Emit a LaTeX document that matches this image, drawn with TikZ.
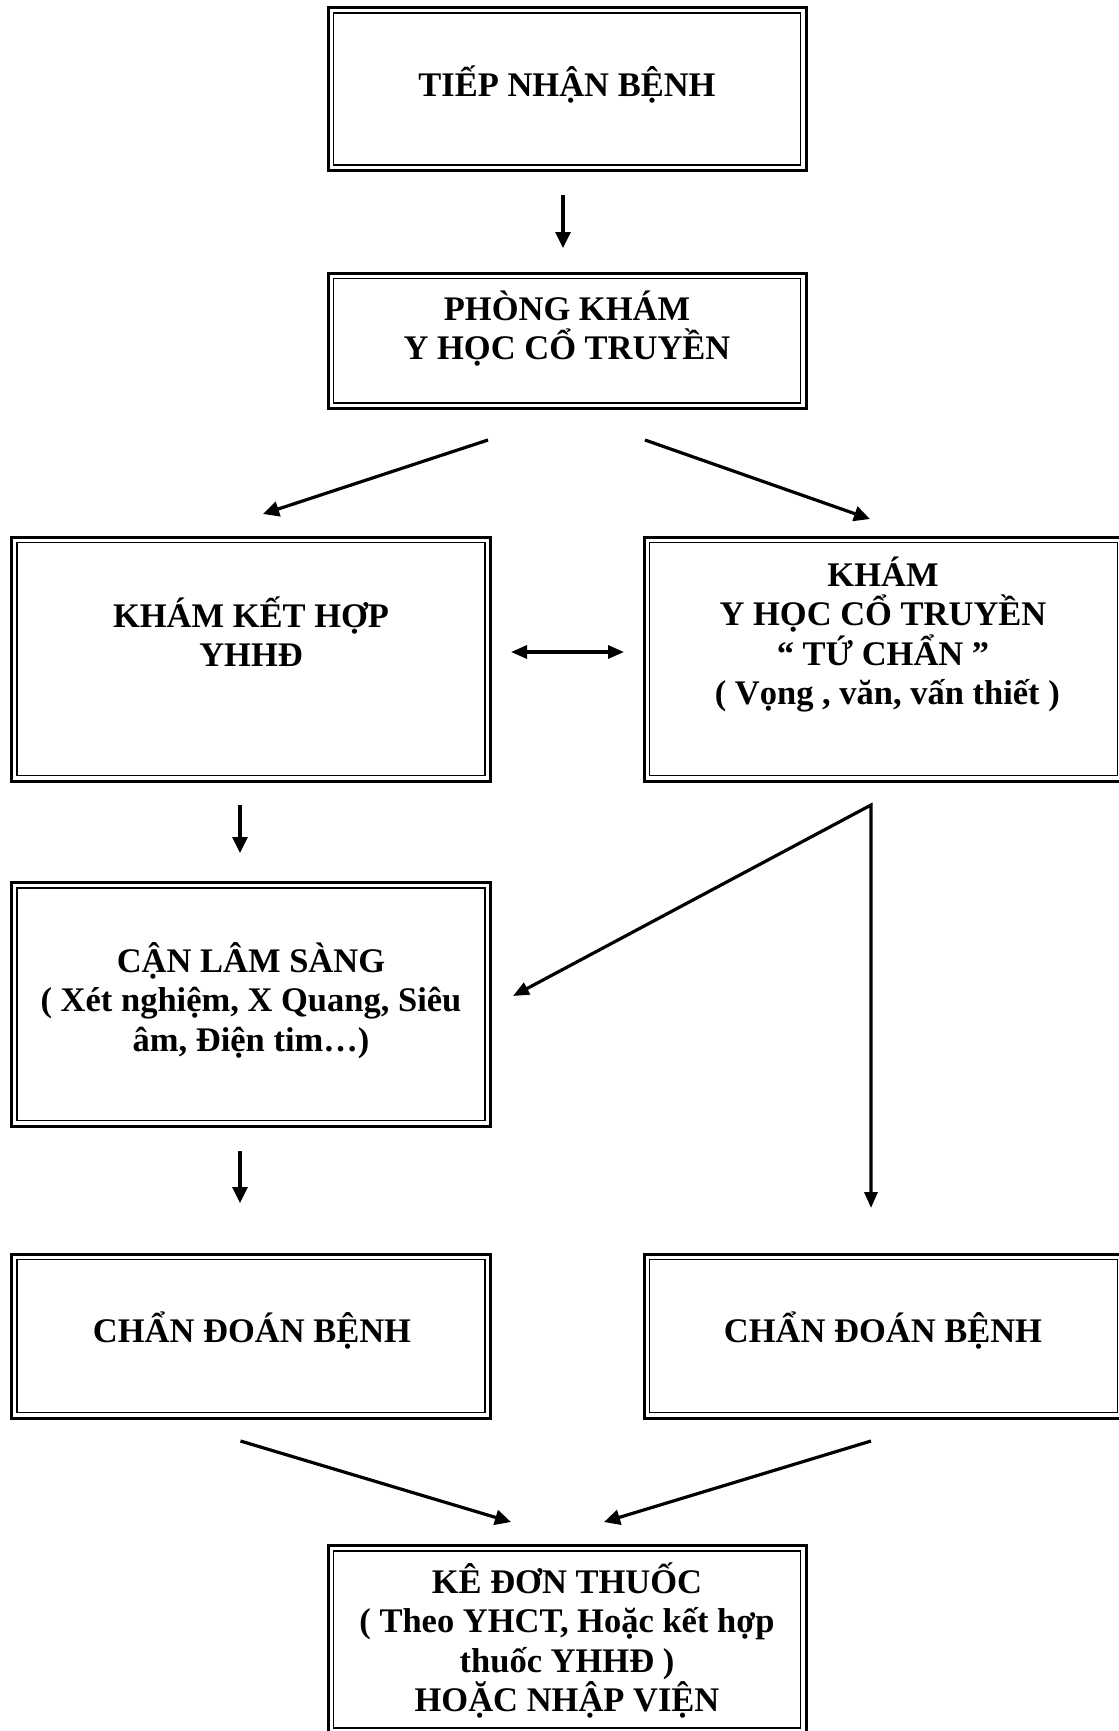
\documentclass[tikz,border=0pt]{standalone}
\usepackage{fontspec}
\setmainfont{Liberation Serif}
\usetikzlibrary{arrows.meta,calc}
\newcommand\tsr{\lineskiplimit=-30pt\relax\rule{0pt}{20pt}}
\begin{document}
\begin{tikzpicture}[x=0.5pt, y=-0.5pt,
  box/.style={draw, line width=1.5pt, outer sep=0pt, inner sep=0pt, rectangle},
  innerline/.style={line width=0.8pt},
  txt/.style={font=\fontsize{17.25pt}{19.75pt}\selectfont\bfseries, align=center, inner sep=0pt, anchor=north},
  arr/.style={line width=1.6pt, -{Triangle[length=8pt,width=7.5pt]}},
  darr/.style={line width=1.6pt, {Triangle[length=8pt,width=6.5pt]}-{Triangle[length=8pt,width=6.5pt]}}]
\useasboundingbox (0,0) rectangle (1119,1731);

% boxes
\node[box, minimum width=239pt, minimum height=81.5pt]   (b1) at (567,89) {};
\node[box, minimum width=239pt, minimum height=67.75pt]  (b2) at (567,340.75) {};
\node[box, minimum width=239.5pt, minimum height=122pt]  (b3) at (251,659) {};
\node[box, minimum width=239.5pt, minimum height=122pt]  (b4) at (883.5,659) {};
\node[box, minimum width=239.5pt, minimum height=121.75pt] (b5) at (251,1004.25) {};
\node[box, minimum width=239.5pt, minimum height=82pt]   (b6) at (251,1336) {};
\node[box, minimum width=239.5pt, minimum height=82pt]   (b7) at (883.5,1336) {};
\node[box, minimum width=239pt, minimum height=93.9pt]   (b8) at (567,1639.6) {};
\foreach \n in {b1,b2,b3,b4,b5,b6,b7,b8}
  \draw[innerline] ($(\n.south west)+(2.7pt,2.7pt)$) rectangle ($(\n.north east)+(-2.7pt,-2.7pt)$);

% texts
\node[txt] (t1) at (567,56) {\tsr TIẾP NHẬN BỆNH};
\node[txt] (t2) at (567,280) {\tsr PHÒNG KHÁM\\Y HỌC CỔ TRUYỀN};
\node[txt] (t3) at (251,587) {\tsr KHÁM KẾT HỢP\\YHHĐ};
\node[txt] (t4) at (883,546) {\tsr KHÁM\\Y HỌC CỔ TRUYỀN\\“ TỨ CHẨN ”\\\hspace*{0.25em}( Vọng , văn, vấn thiết )};
\node[txt] (t5) at (251,932) {\tsr CẬN LÂM SÀNG\\( Xét nghiệm, X Quang, Siêu\\âm, Điện tim…)};
\node[txt] (t6) at (252,1302) {\tsr CHẨN ĐOÁN BỆNH};
\node[txt] (t7) at (883,1302) {\tsr CHẨN ĐOÁN BỆNH};
\node[txt] (t8) at (567,1553) {\tsr KÊ ĐƠN THUỐC\\( Theo YHCT, Hoặc kết hợp\\thuốc YHHĐ )\\HOẶC NHẬP VIỆN};

% connectors
\draw[arr, shorten <=12.25pt, shorten >=12.5pt] ([xshift=-2pt]b1.south) -- ([xshift=-2pt]b2.north);
\coordinate (c2s) at (488,440);
\coordinate (c2e) at (263,514);
\draw[arr] (c2s) -- (c2e);
\coordinate (c3s) at (645,440);
\coordinate (c3e) at (870,519);
\draw[arr] (c3s) -- (c3e);
\draw[darr, shorten <=10.25pt, shorten >=10pt] ([yshift=3.5pt]b3.east) -- ([yshift=3.5pt]b4.west);
\draw[arr, shorten <=12pt, shorten >=14.75pt] ([xshift=-5.5pt]b3.south) -- ([xshift=-5.5pt]b5.north);
\coordinate (ap) at (871,805);
\coordinate (c5e) at (513,996);
\draw[darr, shorten >=23pt] (c5e) -- (ap) -- (ap |- b7.north);
\draw[arr, shorten <=12.5pt, shorten >=25.5pt] ([xshift=-5.5pt]b5.south) -- ([xshift=-5.5pt]b6.north);
\coordinate (c7s) at (240.5,1441);
\coordinate (c7e) at (511,1522);
\draw[arr] (c7s) -- (c7e);
\coordinate (c8s) at (871,1441);
\coordinate (c8e) at (604,1522);
\draw[arr] (c8s) -- (c8e);
\end{tikzpicture}
\end{document}
